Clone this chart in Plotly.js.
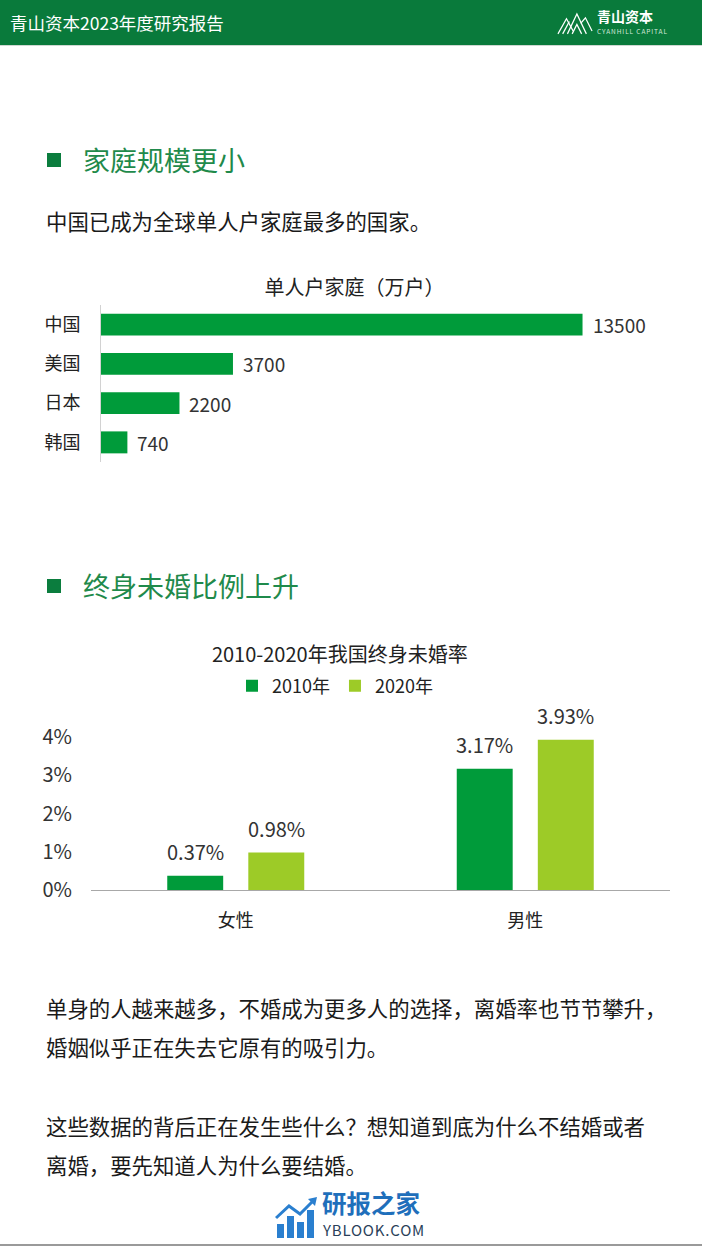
<!DOCTYPE html>
<html>
<head>
<meta charset="utf-8">
<script src="https://cdn.plot.ly/plotly-3.0.1.min.js"></script>
<style>
  html, body { margin:0; padding:0; background:#fff; }
  body { width:702px; height:1246px; position:relative; overflow:hidden;
         font-family:"Noto Sans CJK SC","Noto Sans",sans-serif; color:#1a1a1a; }
  .abs { position:absolute; white-space:nowrap; }
  #header { left:0; top:0; width:702px; height:45px; background:#097a3b; border-bottom:1px solid #cfd8d2; }
  .hd-title { left:10px; top:0; line-height:45px; font-size:17.5px; color:#fff; }
  .sq { width:14px; height:14px; background:#0b7d3e; }
  .h2 { font-size:27px; color:#1f8a4b; line-height:30px; }
  .p { font-size:21.4px; color:#1a1a1a; line-height:30px; }
  #chart1 { left:0; top:265px; width:702px; height:210px; }
  #chart2 { left:0; top:630px; width:702px; height:310px; }
</style>
</head>
<body>
<div id="header" class="abs">
  <div class="abs hd-title">青山资本2023年度研究报告</div>
  <svg class="abs" style="left:557px;top:10px" width="36" height="25" viewBox="0 0 38 26">
    <g fill="none" stroke="#fff" stroke-width="1.3">
      <polyline points="1,25 10,9 17,22"/>
      <polyline points="6,25 13,12"/>
      <polyline points="11,25 21,4 31,25"/>
      <polyline points="16,25 21,15 26,25"/>
      <polyline points="25,14 30,8 37,22"/>
    </g>
  </svg>
  <div class="abs" style="left:597px;top:7px;font-size:14px;font-weight:bold;color:#fff;line-height:18px;">青山资本</div>
  <div class="abs" style="left:597px;top:27px;font-size:6.5px;letter-spacing:0.9px;color:#d6eadb;line-height:9px;">CYANHILL CAPITAL</div>
</div>

<div class="abs sq" style="left:47px;top:153px;"></div>
<div class="abs h2" style="left:83px;top:145px;">家庭规模更小</div>
<div class="abs p" style="left:46px;top:206px;">中国已成为全球单人户家庭最多的国家。</div>

<div id="chart1" class="abs"></div>

<div class="abs sq" style="left:47px;top:579px;"></div>
<div class="abs h2" style="left:83px;top:571px;">终身未婚比例上升</div>

<div id="chart2" class="abs"></div>

<div class="abs p" style="left:46px;top:993px;">单身的人越来越多，不婚成为更多人的选择，离婚率也节节攀升，</div>
<div class="abs p" style="left:46px;top:1032px;">婚姻似乎正在失去它原有的吸引力。</div>
<div class="abs p" style="left:46px;top:1111px;">这些数据的背后正在发生些什么？想知道到底为什么不结婚或者</div>
<div class="abs p" style="left:46px;top:1150px;">离婚，要先知道人为什么要结婚。</div>

<svg class="abs" style="left:275px;top:1196px" width="44" height="44" viewBox="0 0 44 44">
  <g fill="#2a7fcf">
    <rect x="2" y="28" width="7" height="14"/>
    <rect x="12" y="20" width="7" height="22"/>
    <rect x="22" y="26" width="7" height="16"/>
    <rect x="32" y="14" width="7" height="28"/>
  </g>
  <polyline points="1,22 14,10 25,18 38,5" fill="none" stroke="#2a7fcf" stroke-width="3"/>
  <polygon points="33,3 42,1 40,10" fill="#2a7fcf"/>
</svg>
<div class="abs" style="left:322px;top:1190px;font-size:24.5px;font-weight:bold;color:#1f6fbb;line-height:25px;">研报之家</div>
<div class="abs" style="left:323px;top:1222px;font-size:15px;color:#2a3f5a;line-height:16px;letter-spacing:0.8px;">YBLOOK.COM</div>
<div class="abs" style="left:0;top:1244px;width:702px;height:2px;background:#9a9a9a;"></div>

<script>
// ---- Chart 1 data ----
const countries = ['中国', '美国', '日本', '韩国'];
const households = [13500, 3700, 2200, 740];
const chart1Title = '单人户家庭（万户）';

// ---- Chart 2 data ----
const genders = ['女性', '男性'];
const seriesNames = ['2010年', '2020年'];
const rate2010 = [0.37, 3.17];
const rate2020 = [0.98, 3.93];
const chart2Title = '2010-2020年我国终身未婚率';
const rateTicks = [0, 1, 2, 3, 4];

const FONT = '"Noto Sans CJK SC", "Noto Sans", sans-serif';
const DARK = '#009b3a';
const LIGHT = '#9dcb27';

// ---------- Chart 1 ----------
const c1 = { w: 702, h: 210, l: 101, r: 41, t: 40, b: 13 };
Plotly.newPlot('chart1', [{
  type: 'bar', orientation: 'h',
  x: households, y: countries,
  marker: { color: DARK },
  hoverinfo: 'none', cliponaxis: false
}], {
  width: c1.w, height: c1.h,
  margin: { l: c1.l, r: c1.r, t: c1.t, b: c1.b, pad: 0 },
  paper_bgcolor: 'rgba(0,0,0,0)', plot_bgcolor: 'rgba(0,0,0,0)',
  font: { family: FONT, color: '#222', size: 18 },
  title: { text: chart1Title, font: { size: 20, color: '#222' },
           xref: 'container', x: 0.505, yref: 'container', y: 1 - 23 / c1.h, yanchor: 'middle' },
  showlegend: false,
  bargap: 0.44,
  xaxis: { range: [0, 15700], visible: false, fixedrange: true },
  yaxis: { type: 'category', autorange: 'reversed', showline: true, linecolor: '#d2d2d2',
           linewidth: 1, ticks: '', showgrid: false, zeroline: false,
           tickfont: { size: 18, color: '#222' }, ticklabelstandoff: 16, fixedrange: true },
  annotations: households.map((v, i) => ({
    x: v, y: countries[i], xref: 'x', yref: 'y', text: String(v),
    xanchor: 'left', yanchor: 'middle', xshift: 8, showarrow: false,
    font: { size: 19, color: '#333' }
  }))
}, { staticPlot: true, displayModeBar: false });

// ---------- Chart 2 ----------
const c2 = { w: 702, h: 310, l: 91, r: 32, t: 88, b: 50 };
const bargap2 = 0.44, bargroupgap2 = 0.31;
const plotW2 = c2.w - c2.l - c2.r;
const plotH2 = c2.h - c2.t - c2.b;
const catW = plotW2 / genders.length;
const slot = (1 - bargap2) * catW / seriesNames.length;
const series = [rate2010, rate2020];
const colors = [DARK, LIGHT];

const traces2 = series.map((vals, k) => ({
  type: 'bar', name: seriesNames[k], x: genders, y: vals,
  marker: { color: colors[k] }, hoverinfo: 'none', cliponaxis: false
}));

const ann2 = [];
series.forEach((vals, k) => {
  vals.forEach((v, i) => {
    ann2.push({
      x: genders[i], y: v, xref: 'x', yref: 'y', text: v.toFixed(2) + '%',
      xanchor: 'center', yanchor: 'bottom', showarrow: false,
      xshift: (k - (seriesNames.length - 1) / 2) * slot, yshift: 8,
      font: { size: 20, color: '#333' }
    });
  });
});

Plotly.newPlot('chart2', traces2, {
  width: c2.w, height: c2.h,
  margin: { l: c2.l, r: c2.r, t: c2.t, b: c2.b, pad: 0 },
  paper_bgcolor: 'rgba(0,0,0,0)', plot_bgcolor: 'rgba(0,0,0,0)',
  font: { family: FONT, color: '#222', size: 18 },
  title: { text: chart2Title, font: { size: 20, color: '#222' },
           xref: 'container', x: 0.484, yref: 'container', y: 1 - 25 / c2.h, yanchor: 'middle' },
  barmode: 'group', bargap: bargap2, bargroupgap: bargroupgap2,
  showlegend: true,
  legend: { orientation: 'h', x: (232 - c2.l) / plotW2, xanchor: 'left',
            y: 1 + 32 / plotH2, yanchor: 'middle', font: { size: 18, color: '#222' },
            bgcolor: 'rgba(0,0,0,0)', traceorder: 'normal' },
  xaxis: { type: 'category', showline: true, linecolor: '#a8a8a8', linewidth: 1, ticks: '',
           showgrid: false, zeroline: false, tickfont: { size: 18, color: '#222' },
           ticklabelstandoff: 14, fixedrange: true },
  yaxis: { range: [0, 4.5], tickvals: rateTicks, ticktext: rateTicks.map(t => t + '%'),
           showgrid: false, zeroline: false, showline: false, ticks: '',
           tickfont: { size: 20, color: '#333' }, ticklabelstandoff: 18, fixedrange: true },
  annotations: ann2
}, { staticPlot: true, displayModeBar: false });
</script>
</body>
</html>
